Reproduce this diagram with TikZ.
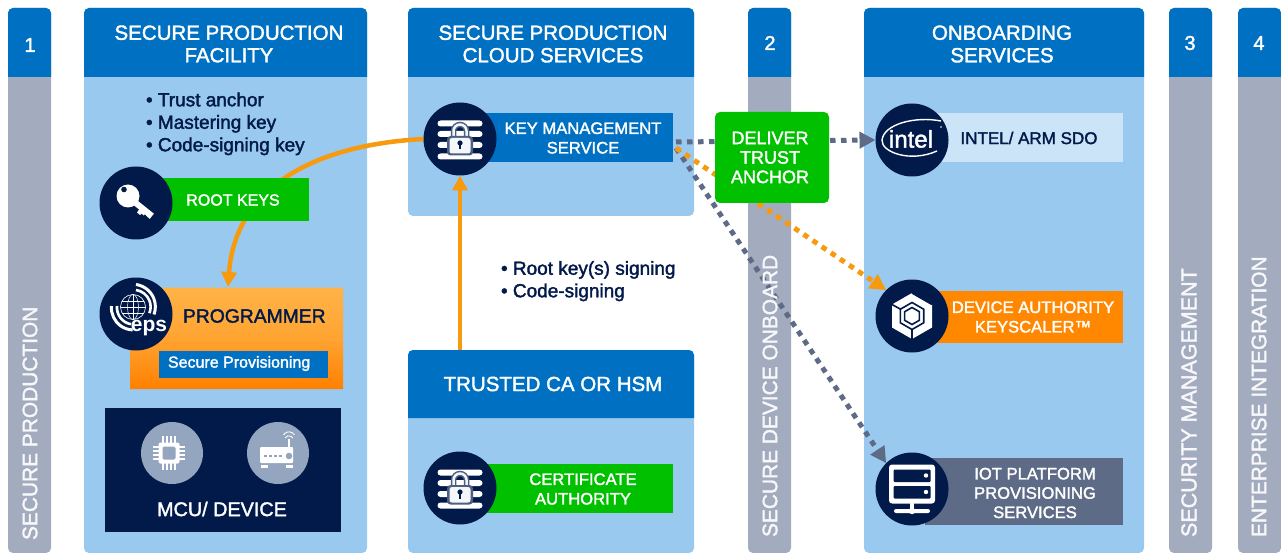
\documentclass[tikz,border=0pt]{standalone}
\usepackage{fontspec}
\setmainfont{Liberation Sans}
\usetikzlibrary{arrows.meta,calc}
\definecolor{hblue}{HTML}{0070C3}
\definecolor{pblue}{HTML}{99C9EE}
\definecolor{navy}{HTML}{021A4A}
\definecolor{sgray}{HTML}{A3ABBF}
\definecolor{cgreen}{HTML}{00C000}
\definecolor{corange}{HTML}{FF8800}
\definecolor{aorange}{HTML}{F79A0E}
\definecolor{dgray}{HTML}{5E6B87}
\definecolor{lblue}{HTML}{CCE4F7}
\definecolor{iconbg}{HTML}{93A5BF}
\definecolor{ptop}{HTML}{FFB347}
\definecolor{pbot}{HTML}{FF8000}
\pgfdeclarelayer{bg}\pgfdeclarelayer{conn}
\pgfsetlayers{bg,conn,main}
\newcommand{\med}{\addfontfeature{FakeBold=1.8}}
\tikzset{
  x=1pt,y=-1pt,
  every node/.style={inner sep=0pt,outer sep=0pt,align=center},
  panelbox/.style={fill=pblue,rounded corners=5pt,anchor=north west},
  stripbox/.style={fill=sgray,rounded corners=5pt,anchor=north west,minimum width=43pt},
  head/.style={text=white,font=\fontsize{20.5}{23}\selectfont\med},
  vert/.style={rotate=90,anchor=west,text=white!92!sgray,font=\fontsize{20.9}{23}\selectfont\med},
  tag/.style={text=white,font=\fontsize{16.6}{19.5}\selectfont\med},
  circ/.style={circle,fill=navy,minimum size=73pt},
  bar/.style={fill=white,rounded corners=3pt},
  bullets/.style={text=navy,font=\fontsize{19}{22.5}\selectfont\med,align=left,anchor=north west},
  solidarrow/.style={aorange,line width=4.5pt,-{Triangle[length=15pt,width=15pt]}},
  dotarrow/.style={line width=5pt,dash pattern=on 5.5pt off 5.5pt,-{Triangle[length=16pt,width=16pt]}},
}
\newcommand{\lockicon}[2]{%
  \begin{scope}[shift={(#1,#2)}]
    \fill[bar] (-22.5,-18.5) rectangle (22.5,-12.5);
    \fill[bar] (-22.5,-8) rectangle (22.5,-2);
    \fill[bar] (-22.5,3) rectangle (22.5,9);
    \fill[bar] (-22.5,14.5) rectangle (22.5,20.5);
    \draw[navy!70!white,line width=5.5pt] (-6.5,-1) -- (-6.5,-8) arc[start angle=-180,end angle=0,radius=6.5] -- (6.5,-1);
    \draw[white!88!iconbg,line width=2.5pt] (-6.5,-1) -- (-6.5,-8) arc[start angle=-180,end angle=0,radius=6.5] -- (6.5,-1);
    \fill[navy!70!white,rounded corners=3.5pt] (-13,-3) rectangle (13,16.5);
    \fill[white!90!iconbg,rounded corners=2.5pt] (-10.5,-1) rectangle (10.5,14.5);
    \fill[navy] (0,4) circle (2.6);
    \fill[navy] (-1.2,4) rectangle (1.2,10.5);
  \end{scope}}
\begin{document}
\begin{tikzpicture}
\useasboundingbox (0,0) rectangle (1281,553);

% ---------- panels and strips
\begin{pgfonlayer}{bg}
  \fill[white] (0,0) rectangle (1281,553);
  \node[stripbox,minimum height=545pt] (s1) at (8,8) {};
  \node[stripbox,minimum height=545pt] (s2) at (748,8) {};
  \node[stripbox,minimum height=545pt] (s3) at (1169,8) {};
  \node[stripbox,minimum height=545pt] (s4) at (1238,8) {};
  \node[panelbox,minimum width=283pt,minimum height=545pt] (pA) at (84,8) {};
  \node[panelbox,minimum width=286pt,minimum height=208pt] (pB) at (408,8) {};
  \node[panelbox,minimum width=286pt,minimum height=203pt] (pC) at (408,350) {};
  \node[panelbox,minimum width=280pt,minimum height=545pt] (pD) at (864,8) {};
  \foreach \xa/\xb/\ya/\yb in {8/51/8/77,84/367/8/77,408/694/8/77,408/694/350/418,748/791/8/77,864/1144/8/77,1169/1212/8/77,1238/1281/8/77}{
    \fill[hblue] (\xa,\yb) [rounded corners=5pt] -- (\xa,\ya) -- (\xb,\ya) [sharp corners] -- (\xb,\yb) -- cycle;
  }
\end{pgfonlayer}

% header labels
\node[head] (tA) at (229,44) {SECURE PRODUCTION\\[-.5pt]FACILITY};
\node[head] (tB) at (553,44) {SECURE PRODUCTION\\[-.5pt]CLOUD SERVICES};
\node[head] (tC) at (553,384) {TRUSTED CA OR HSM};
\node[head] (tD) at (1002,44) {ONBOARDING\\[-.5pt]SERVICES};
\node[head,font=\fontsize{20}{22}\selectfont\med] (n1) at (30,45) {1};
\node[head,font=\fontsize{20}{22}\selectfont\med] (n2) at (770,43) {2};
\node[head,font=\fontsize{20}{22}\selectfont\med] (n3) at (1190,43) {3};
\node[head,font=\fontsize{20}{22}\selectfont\med] (n4) at (1259,43) {4};
\node[vert] (v1) at (30,540) {SECURE PRODUCTION};
\node[vert] (v2) at (770,537) {SECURE DEVICE ONBOARD};
\node[vert,font=\fontsize{21.5}{23}\selectfont\med] (v3) at (1189,537) {SECURITY MANAGEMENT};
\node[vert] (v4) at (1259,537) {ENTERPRISE INTEGRATION};

% bullets
\node[bullets] (b1) at (146,92.5) {• Trust anchor\\• Mastering key\\• Code-signing key};
\node[bullets] (b2) at (501,261) {• Root key(s) signing\\• Code-signing};

% ---------- root keys
\node[fill=cgreen,anchor=north west,minimum width=149pt,minimum height=43pt] (rootbox) at (160,178) {};
\node[tag,font=\fontsize{16}{19}\selectfont\med] (roott) at (233,200) {ROOT KEYS};
\node[circ] (rootc) at (136,203) {};
\begin{scope}[shift={(136,203)}]
  \fill[white] (-8,-7) circle (11.5);
  \draw[white,line width=6pt] (-4,-3) -- (16,13);
  \fill[navy] (-12,-13.5) circle (2.8);
  \fill[white] (4,5) -- (1,9.5) -- (4,12) -- (5.5,10.5) -- (7.5,12.5) -- (9,11) -- (11,13.5) -- (14,16) -- (14,12) -- cycle;
\end{scope}

% ---------- programmer
\shade[top color=ptop,bottom color=pbot,middle color=ptop!70!pbot] (160,287.5) -- (343,287.5) -- (343,389) -- (130,389) -- (130,330) -- (160,330) -- cycle;
\coordinate (progin) at (228,287);
\node[anchor=west,text=navy,font=\fontsize{19.3}{22}\selectfont\med] (progt) at (183,316) {PROGRAMMER};
\node[fill=hblue,anchor=north west,minimum width=169pt,minimum height=27pt] (provbox) at (159,351) {};
\node[text=white,font=\fontsize{16}{18}\selectfont\med,anchor=west] (provt) at (168,363.5) {Secure Provisioning};
\node[circ] (progc) at (136,314) {};
\begin{scope}[shift={(136,314)}]
  \draw[white,line width=.6pt] (-3,-7) circle (12.5);
  \draw[white,line width=.5pt] (-3,-7) ellipse (5.5 and 12.5);
  \draw[white,line width=.5pt] (-3,-19.5) -- (-3,5.5);
  \draw[white,line width=.5pt] (-15.5,-7) -- (9.5,-7);
  \draw[white,line width=.5pt] (-14,-13) -- (8,-13);
  \draw[white,line width=.5pt] (-14,-1) -- (8,-1);
  \draw[white,line width=2.6pt] (0,-24) arc[start angle=-82,end angle=22,radius=17];
  \draw[white,line width=3pt] (0,-29.5) arc[start angle=-82,end angle=20,radius=22.5];
  \draw[white,line width=2.6pt] (-19,-8) arc[start angle=-175,end angle=-260,radius=17];
  \draw[white,line width=3pt] (-24.5,-8) arc[start angle=-175,end angle=-268,radius=22];
  \node[text=white,font=\fontsize{21}{21}\selectfont\bfseries] (epst) at (13,14) {eps};
\end{scope}

% ---------- MCU / device
\node[fill=navy,anchor=north west,minimum width=236pt,minimum height=124pt] (mcubox) at (105,408) {};
\node[circle,fill=iconbg,minimum size=62pt] (chipc) at (172,453) {};
\node[circle,fill=iconbg,minimum size=62pt] (routc) at (278,453) {};
\node[text=white,font=\fontsize{19.8}{22}\selectfont\med] (mcut) at (222,509) {MCU/ DEVICE};
\begin{scope}[shift={(169,453)}]
  \foreach \d in {-6,-2,2,6}{
    \draw[white,line width=1.1pt] (\d,-17) -- (\d,17);
    \draw[white,line width=1.1pt] (-16,\d) -- (16,\d);
  }
  \fill[white,rounded corners=2pt] (-10.5,-10.5) rectangle (10.5,10.5);
  \fill[iconbg,rounded corners=1.5pt] (-6.5,-6.5) rectangle (6.5,6.5);
\end{scope}
\begin{scope}[shift={(278,453)}]
  \fill[white,rounded corners=1pt] (-18,-6) rectangle (15,10);
  \fill[white] (-17,12) rectangle (-10.5,14.5);
  \fill[white] (8,12) rectangle (14.5,14.5);
  \fill[white] (10,-14) rectangle (12,-6);
  \draw[white,line width=.9pt] (7,-15) arc[start angle=-150,end angle=-30,radius=4.5];
  \draw[white,line width=.9pt] (5.5,-18) arc[start angle=-150,end angle=-30,radius=6.3];
  \fill[iconbg] (11,3) circle (3.3);
  \foreach \d in {-14,-9,-4,1}{\fill[iconbg] (\d,2.2) rectangle (\d+2.8,3.6);}
\end{scope}

% ---------- key management
\node[fill=hblue,anchor=north west,minimum width=193pt,minimum height=49pt] (kmsbox) at (480,113) {};
\node[tag] (kmst) at (583,138) {KEY MANAGEMENT\\SERVICE};
\node[circ] (kmsc) at (460,139) {};
\lockicon{460}{139}

% ---------- certificate authority
\node[fill=cgreen,anchor=north west,minimum width=193pt,minimum height=49pt] (cabox) at (480,464) {};
\node[tag] (cat) at (583,489) {CERTIFICATE\\AUTHORITY};
\node[circ] (cac) at (460,488) {};
\lockicon{460}{488}

% ---------- deliver
\node[fill=cgreen,rounded corners=5pt,anchor=north west,minimum width=114pt,minimum height=91pt] (dlv) at (715,112) {};
\node[text=white,font=\fontsize{18}{19.5}\selectfont\med] (dlvt) at (770,157.5) {DELIVER\\TRUST\\ANCHOR};

% ---------- intel
\node[fill=lblue,anchor=north west,minimum width=193pt,minimum height=49pt] (intbox) at (930,113) {};
\node[text=navy,font=\fontsize{17}{19}\selectfont\med] (intt) at (1029,138) {INTEL/ ARM SDO};
\node[circ] (intc) at (912,140) {};
\node[text=white,font=\fontsize{24}{24}\selectfont\med] (intl) at (911,139) {intel};
\draw[white,line width=1.4pt] (941,121) .. controls (915,116) and (884,124) .. (882,140) .. controls (881,152) and (910,163) .. (937,151);
\fill[white] (941,127) circle (.9);

% ---------- keyscaler
\node[fill=corange,anchor=north west,minimum width=193pt,minimum height=52pt] (ksbox) at (930,291) {};
\node[tag] (kst) at (1033,317) {DEVICE AUTHORITY\\KEYSCALER™};
\node[circ] (ksc) at (912,316) {};
\begin{scope}[shift={(912,316)}]
  \fill[white] (0,-23) -- (20,-11.5) -- (20,11.5) -- (0,23) -- (-20,11.5) -- (-20,-11.5) -- cycle;
  \draw[navy,line width=1.6pt] (-20,-11.5) -- (-11,-6.5);
  \draw[navy,line width=1.6pt] (20,-11.5) -- (0,-23);
  \draw[navy,line width=1.6pt] (0,23) -- (0,13);
  \draw[navy,line width=1.6pt] (0,-13.5) -- (11.7,-6.75) -- (11.7,6.75) -- (0,13.5) -- (-11.7,6.75) -- (-11.7,-6.75) -- cycle;
  \draw[navy,line width=1.6pt] (0,-8.5) -- (7.4,-4.25) -- (7.4,4.25) -- (0,8.5) -- (-7.4,4.25) -- (-7.4,-4.25) -- cycle;
  \fill[white] (0,0) circle (5.5);
\end{scope}

% ---------- iot
\node[fill=dgray,anchor=north west,minimum width=198pt,minimum height=67pt] (iotbox) at (925,458) {};
\node[tag,font=\fontsize{16.6}{19.3}\selectfont\med] (iott) at (1035,493) {IOT PLATFORM\\PROVISIONING\\SERVICES};
\node[circ] (iotc) at (912,489) {};
\begin{scope}[shift={(912,489)}]
  \fill[white,rounded corners=3pt] (-23,-24.5) rectangle (23,14.5);
  \fill[navy,rounded corners=1pt] (-18.5,-19.5) rectangle (18.5,-7);
  \fill[navy,rounded corners=1pt] (-18.5,-3) rectangle (18.5,9.5);
  \fill[white] (14,-13.5) circle (2.2);
  \fill[white] (14,3) circle (2.2);
  \fill[white] (-2,14) rectangle (2,23);
  \fill[white,rounded corners=2pt] (-18,20) rectangle (18,24);
  \fill[white] (0,22) circle (3.2);
\end{scope}

% ---------- connectors
\coordinate (kmsout) at (676,142);
\coordinate (kmsoutb) at (676,148);
\begin{pgfonlayer}{conn}
  \draw[solidarrow] (kmsc.west) .. controls (310,145) and (235,190) .. (progin);
  \draw[solidarrow] (pC.north -| kmsc.south) -- (kmsc.south);
  \draw[dotarrow,dgray] (kmsout) -- (intc.west);
  \draw[dotarrow,dgray] (kmsoutb) -- (iotc.north west);
  \draw[dotarrow,aorange] (kmsoutb) -- (ksc.north west);
\end{pgfonlayer}
\end{tikzpicture}
\end{document}
